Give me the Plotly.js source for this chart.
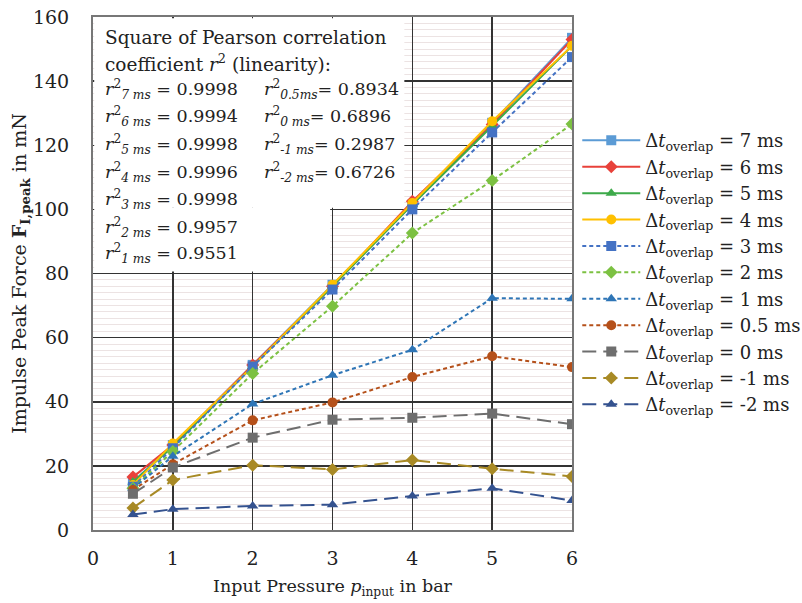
<!DOCTYPE html>
<html><head><meta charset="utf-8">
<script src="https://cdn.plot.ly/plotly-3.0.1.min.js"></script>
<style>html,body{margin:0;padding:0;background:#fff}#chart{width:802px;height:603px}</style>
</head><body><div id="chart"></div>
<script>
const pressure = [0.5, 1, 2, 3, 4, 5, 6];
const seriesNames = ['7 ms','6 ms','5 ms','4 ms','3 ms','2 ms','1 ms','0.5 ms','0 ms','-1 ms','-2 ms'];
const f7  = [15.0, 26.5, 51.5, 76.5, 101.5, 127.0, 153.5];
const f6  = [16.5, 26.5, 51.5, 76.0, 102.5, 126.5, 153.0];
const f5  = [15.0, 26.0, 51.0, 76.0, 101.5, 126.0, 151.0];
const f4  = [14.0, 27.0, 51.0, 76.5, 102.0, 127.5, 151.0];
const f3  = [13.5, 25.5, 51.0, 75.0, 100.0, 124.0, 147.5];
const f2  = [13.0, 24.5, 48.8, 69.8, 92.6, 109.0, 126.6];
const f1  = [13.0, 23.0, 39.3, 48.3, 56.2, 72.3, 72.1];
const f05 = [12.5, 20.5, 34.2, 39.8, 47.7, 54.2, 50.8];
const f0  = [11.3, 19.5, 28.8, 34.4, 35.0, 36.3, 33.0];
const fm1 = [6.9, 15.6, 20.2, 18.9, 21.8, 19.1, 16.7];
const fm2 = [4.8, 6.5, 7.5, 7.9, 10.6, 13.0, 9.2];
const r2Left = [['7 ms','0.9998'],['6 ms','0.9994'],['5 ms','0.9998'],['4 ms','0.9996'],['3 ms','0.9998'],['2 ms','0.9957'],['1 ms','0.9551']];
const r2Right = [['0.5ms','0.8934'],['0 ms','0.6896'],['-1 ms','0.2987'],['-2 ms','0.6726']];

const values = [f7,f6,f5,f4,f3,f2,f1,f05,f0,fm1,fm2];
const styles = [
  {c:'#5B9BD5', s:'square',  d:'solid'},
  {c:'#E8413A', s:'diamond', d:'solid'},
  {c:'#3DAA4A', s:'triangle-up', d:'solid'},
  {c:'#FFC000', s:'circle',  d:'solid'},
  {c:'#4472C4', s:'square',  d:'4px,3px'},
  {c:'#7CC142', s:'diamond', d:'4px,3px'},
  {c:'#2E75B6', s:'triangle-up', d:'4px,3px'},
  {c:'#B5501A', s:'circle',  d:'4px,3px'},
  {c:'#6E6E6E', s:'square',  d:'14px,7px'},
  {c:'#A88A25', s:'diamond', d:'14px,7px'},
  {c:'#34528F', s:'triangle-up', d:'14px,7px'}
];
const FONT = 'DejaVu Serif';
const traces = values.map((v,i)=>({
  x: pressure, y: v, type:'scatter', mode:'lines+markers',
  name: 'Δ<i>t</i><sub>overlap</sub> = ' + seriesNames[i],
  line:{color:styles[i].c, width:2, dash:styles[i].d},
  marker:{color:styles[i].c, symbol:styles[i].s, size:10}
}));

const ann = [];
function py(p){ return (530-p)/513; }
function px(p){ return (p-93)/479; }
ann.push({text:'Square of Pearson correlation', x:px(103), y:py(37), size:18.5});
ann.push({text:'coefficient <i>r</i><sup>2</sup> (linearity):', x:px(103), y:py(63), size:18.5});
const ly = [89,116,144,172,199,227,253];
r2Left.forEach((r,i)=>ann.push({text:'<i>r</i><sup>2</sup><sub><i>'+r[0]+'</i></sub> = '+r[1], x:px(103), y:py(ly[i]), size:17.5}));
r2Right.forEach((r,i)=>ann.push({text:'<i>r</i><sup>2</sup><sub><i>'+r[0]+'</i></sub>= '+r[1], x:px(262), y:py(ly[i]), size:17.5}));
ann.forEach(a=>{const s=a.size; delete a.size; Object.assign(a,{xref:'paper',yref:'paper',xanchor:'left',yanchor:'middle',showarrow:false,font:{family:FONT,size:s,color:'#222'}});});

const layout = {
  width:802, height:603,
  margin:{l:93, r:230, t:17, b:73, autoexpand:false},
  paper_bgcolor:'#fff', plot_bgcolor:'#fff',
  font:{family:FONT, size:19, color:'#222'},
  showlegend:true,
  legend:{x:1.011, y:0.795, xanchor:'left', yanchor:'top', itemwidth:58, font:{family:FONT,size:18,color:'#222'}, tracegroupgap:0, bgcolor:'rgba(0,0,0,0)'},
  xaxis:{range:[0,6], dtick:1, tick0:0, showgrid:true, gridcolor:'#333', gridwidth:1.5,
    showline:true, linecolor:'#777', linewidth:2, mirror:true, zeroline:false, ticks:'', ticklabelstandoff:10,
    tickfont:{family:FONT,size:19,color:'#222'},
    title:{text:'Input Pressure <i>p</i><sub>input</sub> in bar', font:{family:FONT,size:17.5,color:'#222'}, standoff:12}},
  yaxis:{range:[0,160], dtick:20, tick0:0, showgrid:true, gridcolor:'#333', gridwidth:1.5,
    showline:true, linecolor:'#777', linewidth:2, mirror:true, zeroline:false, ticks:'', ticklabelstandoff:18,
    tickfont:{family:FONT,size:19,color:'#222'},
    minor:{dtick:2, showgrid:true, gridcolor:'#ece3e3', gridwidth:1},
    title:{text:'Impulse Peak Force <b>F</b><sub><b>I,peak</b></sub> in mN', font:{family:FONT,size:19,color:'#222'}, standoff:0}},
  shapes:[
    {type:'rect', xref:'x', yref:'y', x0:0.015, x1:3.9, y0:100.5, y1:159.6, fillcolor:'#fff', line:{width:0}, layer:'above'},
    {type:'rect', xref:'x', yref:'y', x0:0.015, x1:2.97, y0:80.6, y1:100.6, fillcolor:'#fff', line:{width:0}, layer:'above'}
  ],
  annotations: ann
};
Plotly.newPlot('chart', traces, layout, {staticPlot:true, displayModeBar:false});
</script></body></html>
